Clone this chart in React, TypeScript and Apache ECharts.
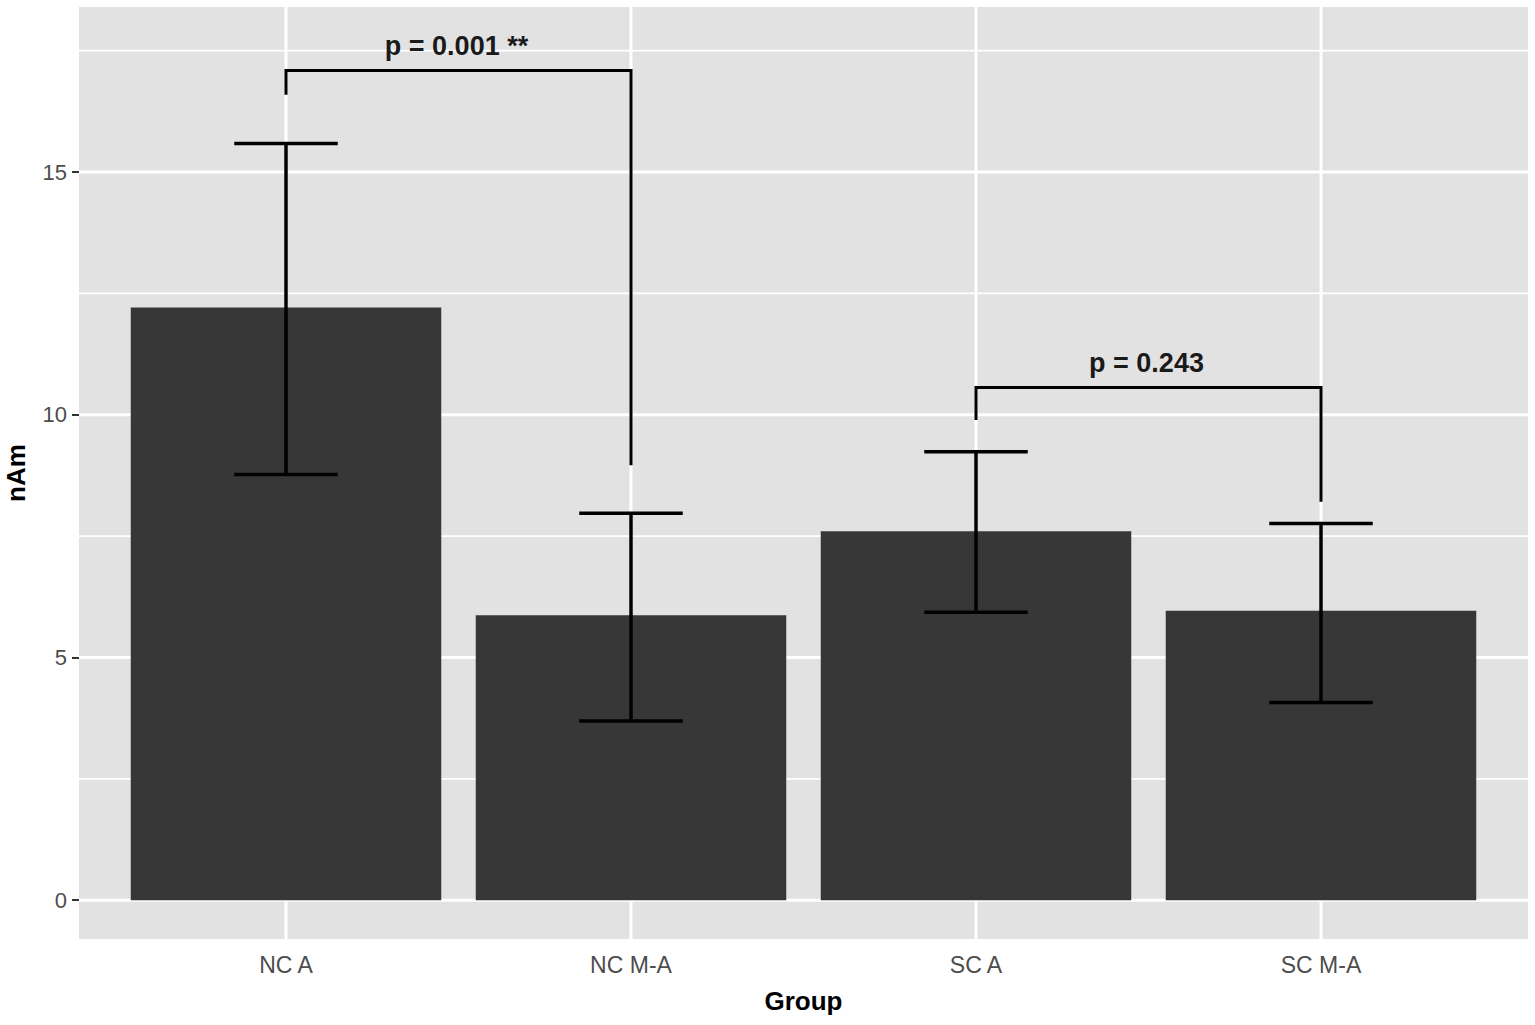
import React, { useEffect, useRef } from "react";
import * as echarts from "echarts";

// ---- data ----
const categories = ["NC A", "NC M-A", "SC A", "SC M-A"];
const categoryPositions = [1, 2, 3, 4];
const meanValues = [12.21, 5.87, 7.6, 5.96];
const lowerValues = [8.77, 3.69, 5.93, 4.07];
const upperValues = [15.59, 7.97, 9.24, 7.76];
const yMajorTicks = [0, 5, 10, 15];
const yMinorTicks = [2.5, 7.5, 12.5, 17.5];
const comparisonFrom = [1, 3];
const comparisonTo = [2, 4];
const bracketHeights = [17.09, 10.56];
const bracketLeftEnds = [16.59, 9.89];
const bracketRightEnds = [8.96, 8.21];
const pLabels = ["p = 0.001 **", "p = 0.243"];

const X_MIN = 0.4;
const X_MAX = 4.6;
const Y_MIN = -0.8;
const Y_MAX = 18.4;
const FONT = "'Liberation Sans', Arial, Helvetica, sans-serif";

export default function App() {
  const ref = useRef<HTMLDivElement>(null);

  useEffect(() => {
    if (!ref.current) return;
    const chart = echarts.init(ref.current, null, { renderer: "svg" });

    const hGridData = [
      ...yMajorTicks.map((v) => [v, 0]),
      ...yMinorTicks.map((v) => [v, 1]),
    ];
    const vGridData = categoryPositions.map((x) => [x, 0]);
    const barData = meanValues.map((v, i) => [categoryPositions[i], v]);
    const errData = meanValues.map((_, i) => [
      categoryPositions[i],
      lowerValues[i],
      upperValues[i],
    ]);
    const bracketData = bracketHeights.map((h, i) => [
      comparisonFrom[i],
      comparisonTo[i],
      h,
      bracketLeftEnds[i],
      bracketRightEnds[i],
      i,
    ]);

    const option: any = {
      animation: false,
      backgroundColor: "#ffffff",
      grid: {
        left: 79,
        top: 7,
        width: 1449,
        height: 932,
        show: true,
        backgroundColor: "#E2E2E2",
        borderWidth: 0,
        containLabel: false,
        outerBoundsMode: "none",
      },
      xAxis: {
        type: "value",
        min: X_MIN,
        max: X_MAX,
        axisLine: { show: false },
        splitLine: { show: false },
        minorSplitLine: { show: false },
        axisTick: {
          show: true,
          customValues: categoryPositions,
          length: 7,
          lineStyle: { color: "#333333", width: 2 },
        },
        axisLabel: {
          customValues: categoryPositions,
          formatter: (v: number) => categories[Math.round(v) - 1] ?? "",
          color: "#4D4D4D",
          fontSize: 23,
          margin: 14,
          fontFamily: FONT,
        },
        name: "Group",
        nameLocation: "middle",
        nameGap: 49,
        nameTextStyle: {
          fontSize: 26,
          fontWeight: "bold",
          color: "#000000",
          fontFamily: FONT,
        },
      },
      yAxis: {
        type: "value",
        min: Y_MIN,
        max: Y_MAX,
        axisLine: { show: false },
        splitLine: { show: false },
        minorSplitLine: { show: false },
        axisTick: {
          show: true,
          customValues: yMajorTicks,
          length: 7,
          lineStyle: { color: "#333333", width: 2 },
        },
        axisLabel: {
          customValues: yMajorTicks,
          formatter: (v: number) => String(v),
          color: "#4D4D4D",
          fontSize: 22,
          margin: 12,
          fontFamily: FONT,
        },
        name: "nAm",
        nameLocation: "middle",
        nameGap: 50,
        nameTextStyle: {
          fontSize: 26,
          fontWeight: "bold",
          color: "#000000",
          fontFamily: FONT,
        },
      },
      series: [
        {
          type: "custom",
          name: "hgrid",
          z: 1,
          silent: true,
          data: hGridData,
          renderItem: (_p: any, api: any) => {
            const v = api.value(0);
            const kind = api.value(1);
            const a = api.coord([X_MIN, v]);
            const b = api.coord([X_MAX, v]);
            return {
              type: "line",
              shape: { x1: a[0], y1: a[1], x2: b[0], y2: b[1] },
              style: { stroke: "#FFFFFF", lineWidth: kind === 0 ? 3 : 1.8 },
            };
          },
        },
        {
          type: "custom",
          name: "vgrid",
          z: 1,
          silent: true,
          data: vGridData,
          renderItem: (_p: any, api: any) => {
            const x = api.value(0);
            const a = api.coord([x, Y_MIN]);
            const b = api.coord([x, Y_MAX]);
            return {
              type: "line",
              shape: { x1: a[0], y1: a[1], x2: b[0], y2: b[1] },
              style: { stroke: "#FFFFFF", lineWidth: 3 },
            };
          },
        },
        {
          type: "custom",
          name: "bars",
          z: 2,
          data: barData,
          renderItem: (_p: any, api: any) => {
            const x = api.value(0);
            const v = api.value(1);
            const tl = api.coord([x - 0.45, v]);
            const br = api.coord([x + 0.45, 0]);
            return {
              type: "rect",
              shape: {
                x: tl[0],
                y: tl[1],
                width: br[0] - tl[0],
                height: br[1] - tl[1],
              },
              style: { fill: "#373737" },
            };
          },
        },
        {
          type: "custom",
          name: "errorbars",
          z: 3,
          data: errData,
          renderItem: (_p: any, api: any) => {
            const x = api.value(0);
            const lo = api.value(1);
            const hi = api.value(2);
            const pLo = api.coord([x, lo]);
            const pHi = api.coord([x, hi]);
            const capL = api.coord([x - 0.15, lo]);
            const capR = api.coord([x + 0.15, lo]);
            const capL2 = api.coord([x - 0.15, hi]);
            const capR2 = api.coord([x + 0.15, hi]);
            const st = { stroke: "#000000", lineWidth: 3.5 };
            return {
              type: "group",
              children: [
                {
                  type: "line",
                  shape: { x1: pLo[0], y1: pLo[1], x2: pHi[0], y2: pHi[1] },
                  style: st,
                },
                {
                  type: "line",
                  shape: { x1: capL[0], y1: capL[1], x2: capR[0], y2: capR[1] },
                  style: st,
                },
                {
                  type: "line",
                  shape: { x1: capL2[0], y1: capL2[1], x2: capR2[0], y2: capR2[1] },
                  style: st,
                },
              ],
            };
          },
        },
        {
          type: "custom",
          name: "brackets",
          z: 4,
          data: bracketData,
          renderItem: (_p: any, api: any) => {
            const x1 = api.value(0);
            const x2 = api.value(1);
            const h = api.value(2);
            const yl = api.value(3);
            const yr = api.value(4);
            const idx = api.value(5);
            const a = api.coord([x1, yl]);
            const b = api.coord([x1, h]);
            const c = api.coord([x2, h]);
            const d = api.coord([x2, yr]);
            const m = api.coord([(x1 + x2) / 2, h]);
            return {
              type: "group",
              children: [
                {
                  type: "polyline",
                  shape: { points: [a, b, c, d] },
                  style: {
                    stroke: "#000000",
                    lineWidth: 3,
                    fill: "none",
                    lineJoin: "miter",
                  },
                },
                {
                  type: "text",
                  x: m[0] - 2,
                  y: m[1] - 25,
                  style: {
                    text: pLabels[idx],
                    fill: "#1A1A1A",
                    fontSize: 27,
                    fontWeight: "bold",
                    fontFamily: FONT,
                    align: "center",
                    verticalAlign: "middle",
                  },
                },
              ],
            };
          },
        },
      ],
    };

    chart.setOption(option);
    return () => chart.dispose();
  }, []);

  return (
    <div
      ref={ref}
      style={{
        position: "absolute",
        left: 0,
        top: 0,
        width: 1535,
        height: 1025,
        background: "#ffffff",
      }}
    />
  );
}
